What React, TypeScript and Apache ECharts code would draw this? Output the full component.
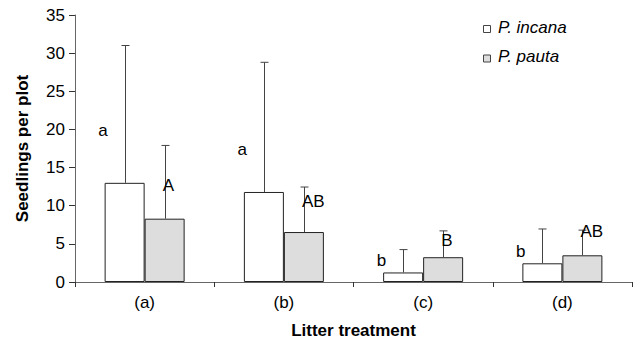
import React, { useEffect, useRef } from "react";
import * as echarts from "echarts";

const categories = ["(a)", "(b)", "(c)", "(d)"];
const seriesNames = ["P. incana", "P. pauta"];
const seriesColors = ["#ffffff", "#dddddd"];
const incanaMean = [13.0, 11.8, 1.25, 2.45];
const incanaSD = [18.0, 17.0, 3.0, 4.5];
const pautaMean = [8.3, 6.55, 3.25, 3.5];
const pautaSD = [9.6, 5.9, 3.45, 3.3];
const incanaLetters = ["a", "a", "b", "b"];
const incanaLetterY = [19.9, 17.4, 2.85, 4.05];
const pautaLetters = ["A", "AB", "B", "AB"];
const pautaLetterY = [12.7, 10.6, 5.45, 6.65];

const FONT = "'Liberation Sans', Arial, sans-serif";
const BAR_W = 40;

function errorSeries(means: number[], sds: number[], dx: number) {
  return {
    type: "custom",
    silent: true,
    z: 5,
    data: means.map((m, i) => [i, m, m + sds[i]]),
    encode: { x: 0, y: [1, 2] },
    renderItem: (params: any, api: any) => {
      const i = api.value(0);
      const p0 = api.coord([i, api.value(1)]);
      const p1 = api.coord([i, api.value(2)]);
      const x = Math.round(p0[0] + dx) + 0.5;
      const style = { stroke: "#444", lineWidth: 1 };
      return {
        type: "group",
        children: [
          { type: "line", shape: { x1: x, y1: p0[1], x2: x, y2: p1[1] }, style },
          { type: "line", shape: { x1: x - 4, y1: p1[1], x2: x + 4, y2: p1[1] }, style },
        ],
      };
    },
  };
}

function letterSeries(letters: string[], ys: number[], dx: number, align: string) {
  return {
    type: "custom",
    silent: true,
    z: 6,
    data: ys.map((y, i) => [i, y]),
    encode: { x: 0, y: 1 },
    renderItem: (params: any, api: any) => {
      const i = api.value(0);
      const p = api.coord([i, api.value(1)]);
      return {
        type: "text",
        x: p[0] + dx,
        y: p[1],
        style: {
          text: letters[params.dataIndex],
          fill: "#000",
          font: `17px ${FONT}`,
          align,
          verticalAlign: "middle",
        },
      };
    },
  };
}

function legendGraphic() {
  const out: any[] = [];
  seriesNames.forEach((name, k) => {
    const cy = 27 + k * 29.5;
    out.push({
      type: "rect",
      shape: { x: 483.5, y: cy - 1.5, width: 7, height: 7 },
      style: { fill: seriesColors[k], stroke: "#444", lineWidth: 1 },
    });
    out.push({
      type: "text",
      x: 498,
      y: cy,
      style: {
        text: name,
        font: `italic 17px ${FONT}`,
        fill: "#000",
        align: "left",
        verticalAlign: "middle",
      },
    });
  });
  return out;
}

export default function App() {
  const ref = useRef<HTMLDivElement>(null);
  useEffect(() => {
    if (!ref.current) return;
    const chart = echarts.init(ref.current, null, { renderer: "svg" });
    chart.setOption({
      animation: false,
      backgroundColor: "#fff",
      grid: { left: 75, right: 4, top: 15, bottom: 63 },
      graphic: legendGraphic(),
      xAxis: {
        type: "category",
        data: categories,
        name: "Litter treatment",
        nameLocation: "middle",
        nameGap: 40,
        nameTextStyle: { fontFamily: FONT, fontSize: 17, fontWeight: "bold", color: "#000" },
        axisLine: { lineStyle: { color: "#666", width: 1 } },
        axisTick: { show: true, length: 5, lineStyle: { color: "#333" } },
        axisLabel: { fontFamily: FONT, fontSize: 17, color: "#000", margin: 12 },
      },
      yAxis: {
        type: "value",
        min: 0,
        max: 35,
        interval: 5,
        name: "Seedlings per plot",
        nameLocation: "middle",
        nameGap: 44,
        nameTextStyle: { fontFamily: FONT, fontSize: 17, fontWeight: "bold", color: "#000" },
        axisLine: { show: true, lineStyle: { color: "#666", width: 1 } },
        axisTick: { show: true, length: 6, lineStyle: { color: "#333" } },
        splitLine: { show: false },
        axisLabel: { fontFamily: FONT, fontSize: 17, color: "#000", margin: 10 },
      },
      series: [
        {
          name: seriesNames[0],
          type: "bar",
          data: incanaMean,
          barWidth: BAR_W,
          barGap: "0%",
          itemStyle: { color: seriesColors[0], borderColor: "#222", borderWidth: 1 },
        },
        {
          name: seriesNames[1],
          type: "bar",
          data: pautaMean,
          barWidth: BAR_W,
          barGap: "0%",
          itemStyle: { color: seriesColors[1], borderColor: "#222", borderWidth: 1 },
        },
        errorSeries(incanaMean, incanaSD, -BAR_W / 2),
        errorSeries(pautaMean, pautaSD, BAR_W / 2),
        letterSeries(incanaLetters, incanaLetterY, -37, "right"),
        letterSeries(pautaLetters, pautaLetterY, 18, "left"),
      ],
    });
    return () => chart.dispose();
  }, []);
  return <div ref={ref} style={{ width: 636, height: 345, position: "absolute", left: 0, top: 0 }} />;
}
